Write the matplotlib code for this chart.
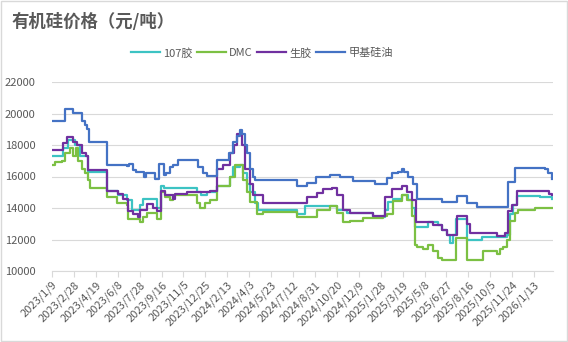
import matplotlib
matplotlib.use('Agg')
import matplotlib.pyplot as plt
import matplotlib.dates as mdates
from matplotlib.patches import Rectangle
import pandas as pd

plt.rcParams['font.family'] = ['Noto Sans CJK SC', 'DejaVu Sans']

# 107胶
gum107_dates = ['2023-01-09', '2023-02-03', '2023-02-14', '2023-03-02', '2023-03-14', '2023-04-01',
                '2023-05-15', '2023-06-08', '2023-06-28', '2023-07-10', '2023-07-29', '2023-08-04',
                '2023-09-06', '2023-09-14', '2023-09-22', '2023-10-21', '2023-12-05', '2023-12-14',
                '2023-12-28', '2024-01-21', '2024-02-19', '2024-02-26', '2024-03-13', '2024-03-20',
                '2024-03-29', '2024-04-05', '2024-04-16', '2024-04-23', '2024-07-21', '2024-08-08',
                '2024-10-20', '2024-11-11', '2025-01-11', '2025-02-07', '2025-02-14', '2025-02-25',
                '2025-03-18', '2025-04-01', '2025-04-10', '2025-04-17', '2025-05-16', '2025-06-08',
                '2025-06-17', '2025-06-28', '2025-07-05', '2025-07-12', '2025-07-19', '2025-08-13',
                '2025-09-16', '2025-11-12', '2025-11-19', '2025-11-26', '2025-12-05', '2026-01-26',
                '2026-02-23']
gum107_vals = [17300, 17800, 18300, 18000, 17300, 16300,
               15100, 14800, 14500, 13900, 14200, 14600,
               14000, 15400, 15250, 15300, 15000, 14800,
               15000, 15400, 16000, 16600, 16700, 16200,
               15500, 15000, 14300, 13850, 13600, 14100,
               13900, 13700, 13450, 13900, 14400, 14600,
               14850, 14500, 14000, 12800, 13100, 12900,
               12600, 12300, 11800, 12300, 13300, 11950,
               12150, 12300, 13600, 14200, 14750, 14700,
               14600]

# DMC
dmc_dates = ['2023-01-09', '2023-01-16', '2023-02-01', '2023-02-08', '2023-02-19', '2023-02-26',
             '2023-03-05', '2023-03-10', '2023-03-18', '2023-03-25', '2023-04-01', '2023-04-05',
             '2023-05-15', '2023-06-06', '2023-06-28', '2023-07-01', '2023-07-29', '2023-08-04',
             '2023-08-14', '2023-09-06', '2023-09-14', '2023-09-24', '2023-10-05', '2023-10-12',
             '2023-12-05', '2023-12-12', '2023-12-23', '2024-01-05', '2024-01-21', '2024-02-19',
             '2024-03-01', '2024-03-20', '2024-03-29', '2024-04-05', '2024-04-20', '2024-05-05',
             '2024-07-21', '2024-09-05', '2024-10-04', '2024-10-20', '2024-11-03', '2024-11-19',
             '2024-12-19', '2025-02-03', '2025-02-11', '2025-02-25', '2025-03-18', '2025-03-29',
             '2025-04-10', '2025-04-17', '2025-04-21', '2025-05-05', '2025-05-16', '2025-05-27',
             '2025-06-08', '2025-06-17', '2025-07-19', '2025-08-13', '2025-09-18', '2025-10-21',
             '2025-10-28', '2025-11-04', '2025-11-12', '2025-11-19', '2025-12-01', '2025-12-08',
             '2026-01-15', '2026-02-23']
dmc_vals = [16700, 16900, 17000, 17500, 17800, 17300,
            17800, 17000, 16500, 16200, 15800, 15300,
            14700, 14300, 14200, 13300, 13100, 13400,
            13700, 13300, 15000, 14700, 14500, 14800,
            14300, 14000, 14300, 14500, 15400, 16000,
            16700, 15800, 15000, 14400, 13600, 13750,
            13450, 13900, 14100, 13700, 13100, 13200,
            13350, 13500, 13650, 14450, 14800, 14500,
            13500, 11650, 11550, 11400, 11650, 11300,
            10800, 10700, 12100, 10700, 11300, 11100,
            11400, 11500, 12000, 13200, 13700, 13850,
            14000, 14000]

# 生胶
raw_dates = ['2023-01-09', '2023-02-03', '2023-02-12', '2023-02-26', '2023-03-07', '2023-03-18',
             '2023-03-28', '2023-04-01', '2023-05-15', '2023-06-08', '2023-06-20', '2023-07-01',
             '2023-07-13', '2023-07-24', '2023-07-29', '2023-08-14', '2023-08-27', '2023-09-06',
             '2023-09-14', '2023-09-24', '2023-10-12', '2023-10-17', '2023-11-13', '2024-01-05',
             '2024-01-21', '2024-02-03', '2024-02-19', '2024-02-28', '2024-03-06', '2024-03-18',
             '2024-03-24', '2024-04-05', '2024-04-12', '2024-05-05', '2024-08-13', '2024-09-05',
             '2024-09-19', '2024-10-09', '2024-10-20', '2024-11-03', '2024-11-19', '2025-01-11',
             '2025-02-07', '2025-02-23', '2025-03-18', '2025-03-29', '2025-04-10', '2025-04-19',
             '2025-05-27', '2025-06-17', '2025-06-28', '2025-07-21', '2025-08-13', '2025-08-20',
             '2025-10-21', '2025-11-08', '2025-11-15', '2025-11-24', '2025-12-05', '2026-02-07',
             '2026-02-16', '2026-02-23']
raw_vals = [17700, 18100, 18500, 18200, 18000, 17500,
            17300, 16400, 15100, 14900, 14600, 13800,
            13600, 13450, 13900, 14250, 14000, 13800,
            15100, 14800, 14600, 14900, 15000, 15100,
            16500, 16700, 17500, 18000, 18700, 18000,
            16500, 15500, 14800, 14300, 14700, 14950,
            15200, 15300, 14800, 13900, 13700, 13500,
            14700, 15200, 15400, 15000, 14500, 13100,
            12900, 12600, 12300, 13500, 13000, 12400,
            12200, 12400, 13800, 14200, 15100, 15050,
            14900, 14800]

# 甲基硅油
oil_dates = ['2023-01-09', '2023-02-08', '2023-02-26', '2023-03-18', '2023-03-25', '2023-03-30',
             '2023-04-03', '2023-05-15', '2023-06-28', '2023-07-04', '2023-07-13', '2023-07-20',
             '2023-08-07', '2023-08-12', '2023-09-01', '2023-09-10', '2023-09-22', '2023-09-26',
             '2023-10-05', '2023-10-12', '2023-10-24', '2023-12-08', '2023-12-20', '2023-12-29',
             '2024-01-21', '2024-02-17', '2024-02-26', '2024-03-06', '2024-03-13', '2024-03-18',
             '2024-03-24', '2024-03-29', '2024-04-05', '2024-04-12', '2024-04-16', '2024-06-01',
             '2024-07-21', '2024-08-13', '2024-09-02', '2024-10-04', '2024-10-27', '2024-11-26',
             '2025-01-15', '2025-02-11', '2025-02-23', '2025-03-09', '2025-03-18', '2025-03-22',
             '2025-03-31', '2025-04-12', '2025-04-21', '2025-06-17', '2025-07-21', '2025-08-13',
             '2025-09-05', '2025-11-15', '2025-12-01', '2026-02-07', '2026-02-14', '2026-02-23']
oil_vals = [19500, 20300, 20050, 19500, 19300, 19000,
            18200, 16700, 16650, 16800, 16400, 16300,
            16000, 16250, 15850, 16800, 16100, 16250,
            16600, 16750, 17050, 16600, 16200, 16050,
            17050, 17500, 18200, 18600, 18950, 18700,
            18000, 17500, 16500, 16000, 15800, 15750,
            15400, 15600, 16000, 16100, 16000, 15700,
            15500, 15900, 16200, 16300, 16450, 16300,
            16000, 15500, 14600, 14350, 14750, 14300,
            14050, 15650, 16550, 16500, 16200, 15850]

series = [('107胶', gum107_dates, gum107_vals, '#3cc3c3'),
          ('DMC', dmc_dates, dmc_vals, '#7cc043'),
          ('生胶', raw_dates, raw_vals, '#7030a0'),
          ('甲基硅油', oil_dates, oil_vals, '#4472c4')]

grey = '#595959'
fig = plt.figure(figsize=(5.68, 3.42), dpi=100)
ax = fig.add_axes([52/568, 1-271/342, (553-52)/568, (271-82)/342])

for name, d, v, c in series:
    ax.step(pd.to_datetime(d), v, where='post', color=c, lw=1.6, label=name)

ax.set_ylim(10000, 22000)
ax.set_yticks(range(10000, 22001, 2000))
ax.set_xlim(pd.Timestamp('2023-01-09'), pd.Timestamp('2026-02-25'))
ticks = pd.date_range('2023-01-09', periods=23, freq='50D')
ax.set_xticks(mdates.date2num(ticks))
ax.set_xticklabels([f'{t.year}/{t.month}/{t.day}' for t in ticks], rotation=45,
                   ha='right', va='top', rotation_mode='anchor')

ax.grid(axis='y', color='#d9d9d9', lw=0.8)
ax.set_axisbelow(True)
for s in ['left', 'right', 'top']:
    ax.spines[s].set_visible(False)
ax.spines['bottom'].set_color('#d9d9d9')
ax.tick_params(axis='y', length=0, labelsize=8, labelcolor=grey, pad=12)
ax.tick_params(axis='x', length=4, color='#d9d9d9', labelsize=8, labelcolor=grey, pad=2)

fig.text(12/568, 1-22/342, '有机硅价格（元/吨）', fontsize=12.5, fontweight='bold',
         color=grey, va='center', ha='left')
fig.legend(loc='center', bbox_to_anchor=(262/568, 1-53/342), ncol=4, frameon=False,
           fontsize=8, handlelength=2.6, handletextpad=0.3, columnspacing=0.4,
           labelcolor=grey)

fig.add_artist(Rectangle((0.001, 0.002), 0.997, 0.995, transform=fig.transFigure,
                         fill=False, edgecolor='#d9d9d9', lw=1))

fig.savefig('out.png', dpi=100)
